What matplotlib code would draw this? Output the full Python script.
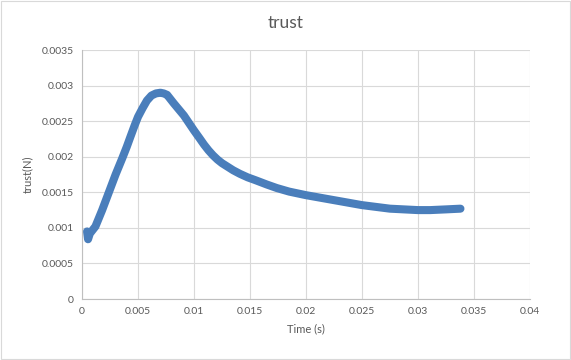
import matplotlib
matplotlib.use("Agg")
import matplotlib.pyplot as plt
from matplotlib.ticker import FixedLocator

plt.rcParams['font.family'] = ['Lato', 'DejaVu Sans']

time_s = [0.00045, 0.00054, 0.0007, 0.0012, 0.0018, 0.0024, 0.0030, 0.0036, 0.0040,
          0.0043, 0.0047, 0.0050, 0.0054, 0.0058, 0.0062, 0.0066, 0.0070, 0.0073,
          0.0076, 0.0078, 0.0082, 0.0091, 0.0100, 0.0105, 0.0109, 0.0113, 0.0117,
          0.0121, 0.0125, 0.0129, 0.0135, 0.0141, 0.0148, 0.0155, 0.0165, 0.0174,
          0.0185, 0.0200, 0.0225, 0.0250, 0.0275, 0.0300, 0.0311, 0.0325, 0.0338]
trust_n = [0.00095, 0.00084, 0.00092, 0.00102, 0.00125, 0.00150, 0.00175, 0.00198, 0.00214,
           0.00227, 0.00244, 0.00256, 0.00268, 0.00279, 0.00286, 0.00289, 0.00290, 0.00289,
           0.00287, 0.00283, 0.00275, 0.00258, 0.00237, 0.00226, 0.00217, 0.00209, 0.00202,
           0.00196, 0.00191, 0.00187, 0.00181, 0.00176, 0.00171, 0.00167, 0.00161, 0.00156,
           0.00151, 0.00146, 0.00139, 0.00132, 0.00127, 0.00125, 0.00125, 0.00126, 0.00127]

x_ticks = [0, 0.005, 0.01, 0.015, 0.02, 0.025, 0.03, 0.035, 0.04]
x_labels = ['0', '0.005', '0.01', '0.015', '0.02', '0.025', '0.03', '0.035', '0.04']
y_ticks = [0, 0.0005, 0.001, 0.0015, 0.002, 0.0025, 0.003, 0.0035]
y_labels = ['0', '0.0005', '0.001', '0.0015', '0.002', '0.0025', '0.003', '0.0035']

fig = plt.figure(figsize=(5.71, 3.60), dpi=100)
fig.patch.set_facecolor('white')
ax = fig.add_axes([0.1436, 0.1694, 0.7844, 0.6916])

ax.plot(time_s, trust_n, color='#4a7ebb', linewidth=5.8,
        solid_capstyle='round', solid_joinstyle='round')

ax.set_xlim(0, 0.04)
ax.set_ylim(0, 0.0035)
ax.xaxis.set_major_locator(FixedLocator(x_ticks))
ax.yaxis.set_major_locator(FixedLocator(y_ticks))
ax.set_xticklabels(x_labels)
ax.set_yticklabels(y_labels)
ax.tick_params(length=0, labelsize=7.5, labelcolor='#595959', pad=6)
ax.grid(True, color='#d9d9d9', linewidth=0.8)
ax.set_axisbelow(True)
for s in ['top', 'right']:
    ax.spines[s].set_visible(False)
for s in ['left', 'bottom']:
    ax.spines[s].set_color('#bfbfbf')
    ax.spines[s].set_linewidth(0.8)

ax.set_xlabel('Time (s)', fontsize=8, color='#595959', labelpad=5)
ax.set_ylabel('trust(N)', fontsize=8, color='#595959', labelpad=6)
fig.text(0.5, 0.935, 'trust', ha='center', va='center', fontsize=12.5, color='#595959')

border = plt.Rectangle((0.002, 0.003), 0.996, 0.994, transform=fig.transFigure,
                       fill=False, edgecolor='#d9d9d9', linewidth=0.8)
fig.patches.append(border)

fig.savefig('out.png', dpi=100)
